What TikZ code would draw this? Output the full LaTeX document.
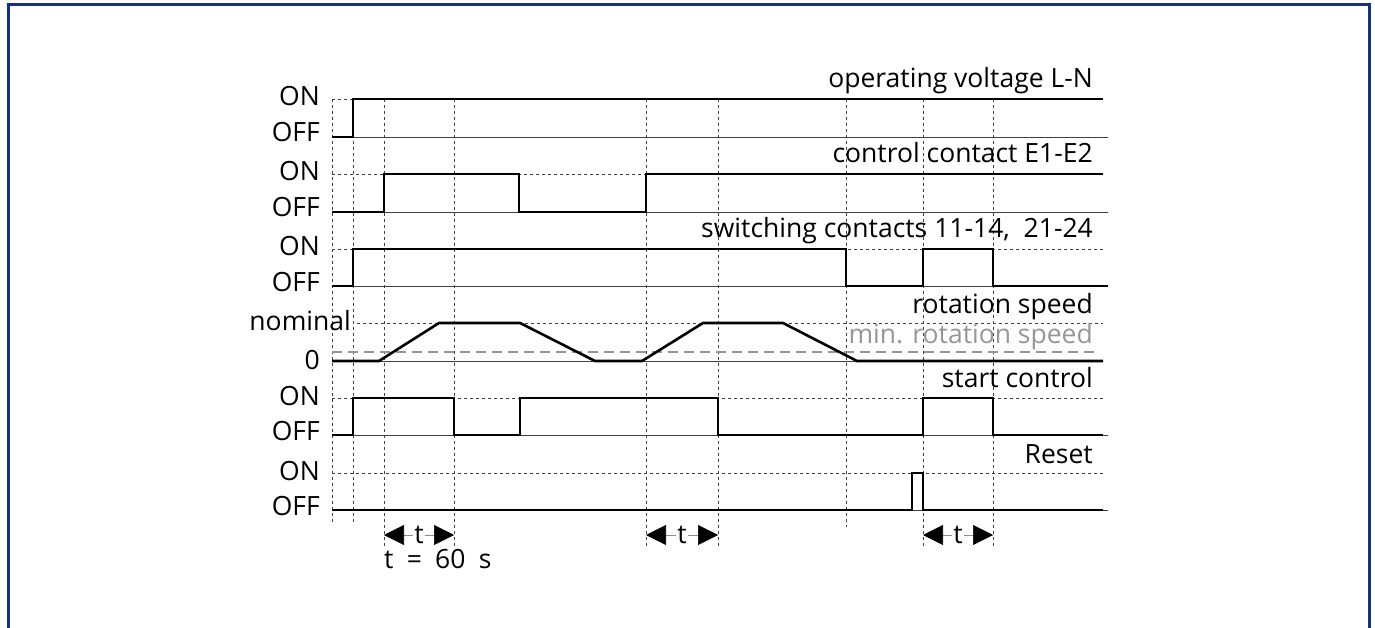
\documentclass[tikz,border=0pt]{standalone}
\usepackage{fontspec}
\setmainfont{Open Sans}
\usetikzlibrary{arrows.meta}
\definecolor{framenavy}{RGB}{22,50,118}
\definecolor{mingray}{RGB}{150,150,150}

\begin{document}
\begin{tikzpicture}[x=1pt,y=-1pt,
		every node/.style={font=\fontsize{26.5}{30}\selectfont,inner sep=0pt},
		lbl/.style={anchor=base east},
		sigline/.style={line width=2.6pt,line join=miter},
		offline/.style={line width=0.8pt,black!75},
		onlevel/.style={line width=0.8pt,black!75,dash pattern=on 3pt off 3pt},
		gridline/.style={line width=0.8pt,black!75,dash pattern=on 3pt off 3pt},
		minlevel/.style={line width=1.2pt,mingray,dash pattern=on 10pt off 6pt},
		dimarrow/.style={line width=0.6pt,black!45,
			{Triangle[length=20pt,width=20pt,black]}-{Triangle[length=20pt,width=20pt,black]}},
		tlabel/.style={fill=white,text=black,inner xsep=1pt}]
	
	\useasboundingbox (0,0) rectangle (1375,628);
	
	% frame, open at the bottom
	\draw[framenavy,line width=3pt] (8,628) -- (8,5) -- (1369,5) -- (1369,628);
	
	% vertical time marks
	\foreach \x/\yb in {332/525,353/525,384/547,454/547,646/547,718/547,846/527,923/547,993/547}{
		\draw[gridline] (\x,99) -- (\x,\yb);
	}
	
	% ON/OFF levels and left labels
	\foreach \name/\yon/\yoff in {volt/99/137,ctrl/174/212,sw/249/286,start/398/435,reset/473/510}{
		\draw[onlevel] (332,\yon) -- (1103,\yon);
		\draw[offline] (332,\yoff) -- (1108,\yoff);
		\node[lbl] (on\name) at (320,\yon+7) {ON};
		\node[lbl] (off\name) at (320,\yoff+5) {OFF};
	}
	
	% speed levels
	\draw[onlevel] (357,323) -- (1103,323);
	\draw[minlevel] (332,352) -- (1100,352);
	\draw[offline] (332,361) -- (1103,361);
	\node[lbl] (nom) at (351,330) {nominal};
	\node[lbl] (zero) at (320,369) {0};
	
	% signal names
	\node[lbl] (volt) at (1093,88) {operating voltage L-N};
	\node[lbl] (ctrl) at (1093,163) {control contact E1-E2};
	\node[lbl] (sw) at (1093,238) {switching contacts 11-14,\ \ 21-24};
	\node[lbl] (speed) at (1093,313) {rotation speed};
	\node[lbl,text=mingray] (minspeed) at (1093,343) {min. rotation speed};
	\node[lbl] (start) at (1093,387) {start control};
	\node[lbl] (reset) at (1093,463) {Reset};
	
	% signals
	\draw[sigline] (332,137) -- (353,137) -- (353,99) -- (1103,99);
	\draw[sigline] (332,212) -- (384,212) -- (384,174) -- (519,174) -- (519,212)
		-- (646,212) -- (646,174) -- (1103,174);
	\draw[sigline] (332,286) -- (353,286) -- (353,249) -- (846,249) -- (846,286)
		-- (923,286) -- (923,249) -- (993,249) -- (993,286) -- (1108,286);
	\draw[sigline] (332,361) -- (379,361) -- (439,323) -- (520,323) -- (595,361)
		-- (642,361) -- (703,323) -- (783,323) -- (857,361) -- (1103,361);
	\draw[sigline] (332,435) -- (353,435) -- (353,398) -- (454,398) -- (454,435)
		-- (520,435) -- (520,398) -- (718,398) -- (718,435) -- (923,435)
		-- (923,398) -- (993,398) -- (993,435) -- (1103,435);
	\draw[sigline] (332,510) -- (912,510) -- (912,473) -- (923,473) -- (923,510) -- (1103,510);
	
	% delay times
	\foreach \i/\xa/\xb in {1/384/454,2/646/718,3/923/993}{
		\coordinate (ta\i) at (\xa,535);
		\coordinate (tb\i) at (\xb,535);
		\draw[dimarrow] (ta\i) -- node[tlabel] (t\i) {t} (tb\i);
	}
	\node[anchor=base west] (tval) at (384,568) {t\enspace=\enspace60\enspace s};
	
\end{tikzpicture}
\end{document}
